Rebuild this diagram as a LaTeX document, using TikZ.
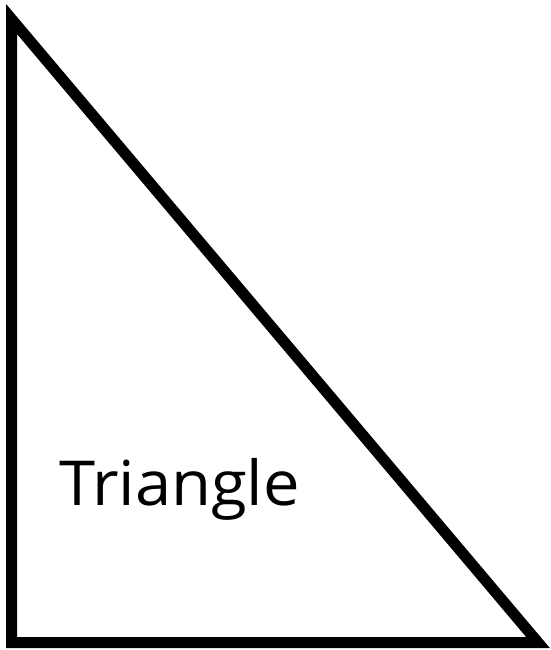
\documentclass[tikz,border=0pt]{standalone}
\usepackage{fontspec}
\setmainfont{Open Sans}
\begin{document}
\begin{tikzpicture}[x=1pt,y=-1pt,
  tri/.style={draw=black,line width=11pt,line join=miter},
  lbl/.style={font=\fontsize{62}{74}\selectfont,inner sep=0pt,anchor=base west,xscale=1.05}]
\useasboundingbox (0,0) rectangle (550,650);
\coordinate (A) at (11.5,19);
\coordinate (B) at (11.5,642.5);
\coordinate (C) at (538,642.5);
\draw[tri] (A) -- (B) -- (C) -- cycle;
\node[lbl] (t) at (59,505) {Triangle};
\end{tikzpicture}
\end{document}
